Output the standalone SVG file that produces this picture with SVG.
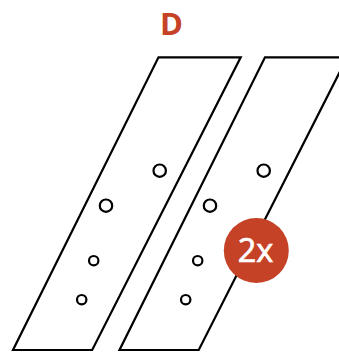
<svg xmlns="http://www.w3.org/2000/svg" width="339" height="352" viewBox="0 0 339 352">
<style>
.s{fill:#fff;stroke:#000;stroke-width:2.200}
.h{fill:#fff;stroke:#000;stroke-width:2.200}
text{font-family:"Open Sans","Noto Sans",sans-serif}
</style>
<rect width="339" height="352" fill="#fff"/>
<g id="title"><text x="171.500" y="34.700" font-size="31" font-weight="700" fill="#c54227" text-anchor="middle">D</text></g>
<g id="plate-left">
<polygon class="s" points="158.500,57.300 240.700,57.300 92.200,350 13,350"/>
<circle class="h" cx="159.700" cy="170.700" r="6.200"/>
<circle class="h" cx="106" cy="205.700" r="6.200"/>
<circle class="h" cx="93.700" cy="260.700" r="4.700"/>
<circle class="h" cx="81.700" cy="299.700" r="4.700"/>
</g>
<g id="plate-right">
<polygon class="s" points="265,57.300 347.200,57.300 198.700,350 119.500,350"/>
<circle class="h" cx="263.700" cy="170.700" r="6.200"/>
<circle class="h" cx="210" cy="205.700" r="6.200"/>
<circle class="h" cx="197.700" cy="260.700" r="4.700"/>
<circle class="h" cx="185.700" cy="299.700" r="4.700"/>
</g>
<g id="badge">
<circle cx="256.300" cy="250.500" r="32.500" fill="#c54227"/>
<text x="255.500" y="262" font-size="32.500" fill="#fff" stroke="#fff" stroke-width="0.700" text-anchor="middle">2x</text>
</g>
</svg>
